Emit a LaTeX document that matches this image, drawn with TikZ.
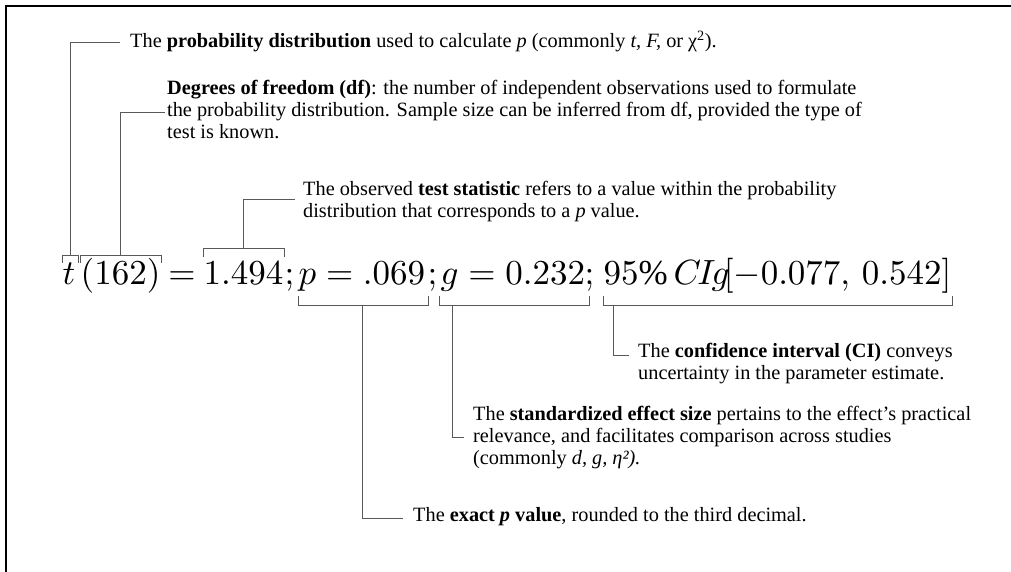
\documentclass[tikz,border=0pt]{standalone}
\usepackage{fontspec}
\setmainfont{Liberation Serif}
\tikzset{
  txt/.style={anchor=base west, inner sep=0pt, align=left, font=\fontsize{20.3}{22}\selectfont},
  eqn/.style={anchor=base west, inner sep=0pt, font=\normalsize, scale=3.5, transform shape},
  brk/.style={draw=black!65, line width=0.8pt},
  conn/.style={draw=black!65, line width=0.8pt},
  frame/.style={draw=black, line width=2pt}
}
\begin{document}
\begin{tikzpicture}[x=1pt,y=-1pt]
\useasboundingbox (0,0) rectangle (1011,572);
\draw[frame] (6,572) -- (6,6) -- (1011,6);

% equation pieces
\node[eqn] (t) at (62,284) {$t$};
\node[eqn] (df) at (80,284) {$(162)$};
\node[eqn, anchor=base] (eq) at (182,284) {$=$};
\node[eqn] (ts) at (203,284) {$1.494$};
\node[eqn] (s1) at (284,284) {$;$};
\node[eqn] (pv) at (298,284) {$p=.069$};
\node[eqn] (s2) at (427,284) {$;$};
\node[eqn] (es) at (440,284) {$g=0.232$};
\node[eqn] (s3) at (584,284) {$;$};
\node[eqn] (ci1) at (603,284) {$95\%$};
\node[eqn] (ci2) at (673,284) {$C\mkern-2muI\mkern-2mug$};
\node[eqn, anchor=base east] (ci3) at (952,284) {$[-0.077,\,0.542]$};

% text nodes (base = baseline of last line)
\node[txt] (d0) at (130,48) {The \textbf{probability distribution} used to calculate \textit{p} (commonly \textit{t, F,} or χ\textsuperscript{2}).};
\node[txt] (d1) at (167,139) {\textbf{Degrees of freedom (df)}: the number of independent observations used to formulate\\ the probability distribution. Sample size can be inferred from df, provided the type of\\ test is known.};
\node[txt] (d2) at (303,217) {The observed \textbf{test statistic} refers to a value within the probability\\ distribution that corresponds to a \textit{p} value.};
\node[txt] (ci) at (638,379) {The \textbf{confidence interval (CI)} conveys\\ uncertainty in the parameter estimate.};
\node[txt] (std) at (473,464) {The \textbf{standardized effect size} pertains to the effect's practical\\ relevance, and facilitates comparison across studies\\ (commonly \textit{d, g, η²).}};
\node[txt] (ex) at (413,521) {The \textbf{exact \textit{p} value}, rounded to the third decimal.};

% top brackets
\coordinate (te) at ([xshift=2pt]t.east);
\draw[brk] (t.west |- 0,263) -- (t.west |- 0,255) -- (te |- 0,255) -- (te |- 0,263);
\draw[brk] (df.west |- 0,263) -- (df.west |- 0,255) -- (df.east |- 0,255) -- (df.east |- 0,263);
\draw[brk] (ts.west |- 0,257) -- (ts.west |- 0,248) -- (ts.east |- 0,248) -- (ts.east |- 0,257);

% bottom brackets
\coordinate (pe) at ([xshift=2pt]pv.east);
\draw[brk] (pv.west |- 0,296) -- (pv.west |- 0,305) -- (pe |- 0,305) -- (pe |- 0,296);
\coordinate (gw) at ([xshift=-1pt]es.west);
\draw[brk] (gw |- 0,296) -- (gw |- 0,305) -- (s3.center |- 0,305) -- (s3.center |- 0,296);
\draw[brk] (ci1.west |- 0,296) -- (ci1.west |- 0,305) -- (ci3.east |- 0,305) -- (ci3.east |- 0,296);

% connectors
\coordinate (tc) at ([xshift=1pt]t.north);
\draw[conn] (tc |- 0,255) |- ([xshift=-10pt,yshift=6pt]d0.base west);
\draw[conn] (df.north |- 0,255) |- ([xshift=-2pt,yshift=27pt]d1.base west);
\draw[conn] (ts.north |- 0,248) |- ([xshift=-8pt,yshift=18pt]d2.base west);
\draw[conn] (pv.south |- 0,305) |- ([xshift=-10pt,yshift=3pt]ex.base west);
\coordinate (gx) at ([xshift=12pt]es.west);
\draw[conn] (gx |- 0,305) |- ([xshift=-9pt,yshift=27pt]std.base west);
\coordinate (cx) at ([xshift=10pt]ci1.west);
\draw[conn] (cx |- 0,305) |- ([xshift=-9pt,yshift=24pt]ci.base west);
\end{tikzpicture}
\end{document}
